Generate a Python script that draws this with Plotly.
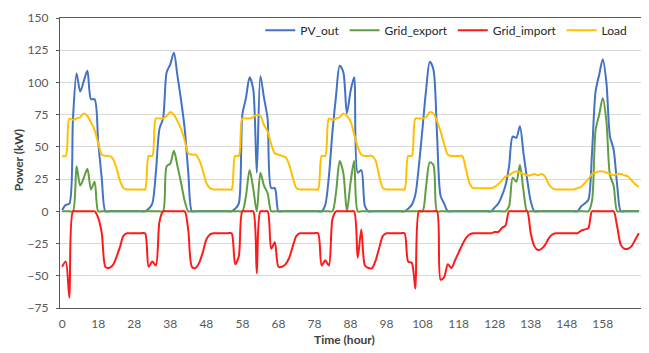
import plotly.graph_objects as go

# Hour index (0..160), tick labels as printed on the chart
tick_labels = ["0", "18", "28", "38", "48", "58", "68", "78", "88", "98",
               "108", "118", "128", "138", "148", "158", "168"]

load = [
    43, 43, 72, 71, 72, 73, 76, 74, 69, 63, 53, 44, 43, 43, 41, 34, 24, 18, 17, 17, 17, 17, 17, 17,
    43, 43, 72, 72, 72, 74, 77, 75, 70, 64, 55, 45, 44, 44, 40, 32, 22, 18, 17, 17, 17, 17, 17, 17,
    43, 43, 72, 72, 72, 73, 75, 74, 67, 62, 52, 45, 44, 43, 42, 36, 26, 18, 17, 17, 17, 17, 17, 17,
    43, 43, 72, 71, 72, 73, 76, 74, 70, 60, 50, 44, 43, 43, 43, 39, 27, 18, 17, 17, 17, 17, 17, 17,
    43, 43, 72, 72, 72, 73, 77, 76, 70, 62, 52, 44, 43, 43, 43, 43, 33, 22, 18, 18, 18, 18, 18, 18,
    19, 21, 24, 27, 28, 30, 31, 30, 29, 28, 28, 29, 28, 29, 27, 21, 18, 17, 17, 17, 17, 17, 17, 18,
    19, 22, 25, 29, 30, 31, 31, 30, 29, 28, 29, 29, 28, 27, 24, 21, 19,
]

pv_out = [
    1, 5, 6, 72, 107, 93, 101, 109, 87, 87, 54, 25, 0, 0, 0, 0, 0, 0, 0, 0, 0, 0, 0, 0,
    2, 6, 30, 64, 72, 108, 114, 123, 105, 86, 64, 30, 0, 0, 0, 0, 0, 0, 0, 0, 0, 0, 0, 0,
    2, 6, 75, 88, 104, 95, 30, 105, 88, 72, 18, 18, 0, 0, 0, 0, 0, 0, 0, 0, 0, 0, 0, 0,
    0, 5, 27, 62, 90, 113, 108, 76, 93, 104, 30, 32, 4, 0, 0, 0, 0, 0, 0, 0, 0, 0, 0, 0,
    2, 5, 13, 36, 65, 95, 116, 110, 60, 12, 6, 0, 0, 0, 0, 0, 0, 0, 0, 0, 0, 0, 0, 0,
    3, 6, 12, 20, 35, 58, 57, 66, 45, 25, 8, 0, 0, 0, 0, 0, 0, 0, 0, 0, 0, 0, 0, 0,
    4, 6, 9, 45, 93, 106, 118, 100, 58, 48, 20, 0, 0, 0, 0, 0, 0,
]

grid_export = [
    0, 0, 0, 0, 35, 20, 26, 33, 17, 23, 0, 0, 0, 0, 0, 0, 0, 0, 0, 0, 0, 0, 0, 0,
    0, 0, 0, 0, 0, 35, 37, 47, 35, 22, 8, 0, 0, 0, 0, 0, 0, 0, 0, 0, 0, 0, 0, 0,
    0, 0, 0, 12, 32, 18, 0, 30, 20, 14, 0, 0, 0, 0, 0, 0, 0, 0, 0, 0, 0, 0, 0, 0,
    0, 0, 0, 0, 15, 39, 30, 0, 22, 39, 0, 0, 0, 0, 0, 0, 0, 0, 0, 0, 0, 0, 0, 0,
    0, 0, 0, 0, 0, 20, 38, 36, 0, 0, 0, 0, 0, 0, 0, 0, 0, 0, 0, 0, 0, 0, 0, 0,
    0, 0, 0, 0, 4, 26, 23, 36, 16, 0, 0, 0, 0, 0, 0, 0, 0, 0, 0, 0, 0, 0, 0, 0,
    0, 0, 0, 8, 63, 75, 88, 70, 28, 20, 0, 0, 0, 0, 0, 0, 0,
]

grid_import = [
    -43, -39, -67, 0, 0, 0, 0, 0, 0, 0, -5, -17, -43, -44, -42, -36, -28, -19, -17, -17, -17, -17, -17, -17,
    -43, -39, -42, -8, 0, 0, 0, 0, 0, 0, 0, -15, -43, -44, -40, -32, -22, -18, -17, -17, -17, -17, -17, -17,
    -41, -35, 0, 0, 0, 0, -48, 0, 0, 0, -29, -24, -43, -43, -41, -36, -27, -19, -17, -17, -17, -17, -17, -17,
    -42, -38, -42, -6, 0, 0, 0, 0, 0, 0, -36, -14, -42, -44, -44, -38, -28, -19, -17, -17, -17, -17, -17, -17,
    -39, -40, -60, 0, 0, 0, 0, 0, 0, -53, -51, -41, -44, -38, -32, -26, -21, -18, -17, -17, -17, -17, -17, -17,
    -16, -16, -13, -11, 0, 0, 0, 0, 0, 0, -17, -27, -30, -29, -26, -21, -18, -17, -17, -17, -17, -17, -17, -17,
    -15, -14, -13, 0, 0, 0, 0, 0, 0, 0, -12, -26, -29, -29, -27, -22, -17,
]

hours = list(range(len(load)))
tick_pos = [i * 10 for i in range(len(tick_labels))]

FONT = "Lato, 'Liberation Sans', Arial, sans-serif"

series = [
    ("PV_out", pv_out, "#4472C4"),
    ("Grid_export", grid_export, "#5F9E42"),
    ("Grid_import", grid_import, "#FF1A1A"),
    ("Load", load, "#FFC000"),
]

fig = go.Figure()
for name, vals, col in series:
    fig.add_trace(go.Scatter(
        x=hours, y=vals, name=name, mode="lines",
        line=dict(color=col, width=2, shape="spline", smoothing=0.8),
    ))

# The page body has an 8px margin, so the figure is sized/positioned to compensate.
fig.update_layout(
    width=641, height=345,
    margin=dict(l=52, r=8, t=10, b=45, autoexpand=False),
    paper_bgcolor="white", plot_bgcolor="white",
    font=dict(family=FONT, size=12, color="#595959"),
    showlegend=True,
    legend=dict(
        orientation="h", x=0.985, xanchor="right", y=0.958, yanchor="middle",
        font=dict(family=FONT, size=12, color="#262626"),
        bgcolor="rgba(0,0,0,0)", itemwidth=30, tracegroupgap=0,
    ),
    xaxis=dict(
        range=[-0.6, 160.6], tickmode="array", tickvals=tick_pos, ticktext=tick_labels,
        showgrid=False, zeroline=False, automargin=False,
        showline=True, mirror=True, linecolor="#595959", linewidth=1.2,
        ticks="", ticklabelstandoff=4, tickfont=dict(size=12, color="#595959"),
    ),
    yaxis=dict(
        range=[-75, 150], dtick=25, tick0=0, automargin=False,
        showgrid=True, gridcolor="#D9D9D9", gridwidth=1, zeroline=False,
        showline=True, mirror=True, linecolor="#595959", linewidth=1.2,
        ticks="outside", ticklen=3, tickcolor="#595959", ticklabelstandoff=5,
        tickfont=dict(size=12, color="#595959"),
    ),
    annotations=[
        dict(text="<b>Power (kW)</b>", xref="paper", yref="paper",
             x=-0.072, y=0.51, textangle=-90, showarrow=False,
             font=dict(family=FONT, size=12, color="#404040"),
             xanchor="center", yanchor="middle"),
        dict(text="<b>Time (hour)</b>", xref="paper", yref="paper",
             x=0.49, y=-0.11, showarrow=False,
             font=dict(family=FONT, size=12, color="#404040"),
             xanchor="center", yanchor="middle"),
    ],
)

fig.write_html("out.html")
